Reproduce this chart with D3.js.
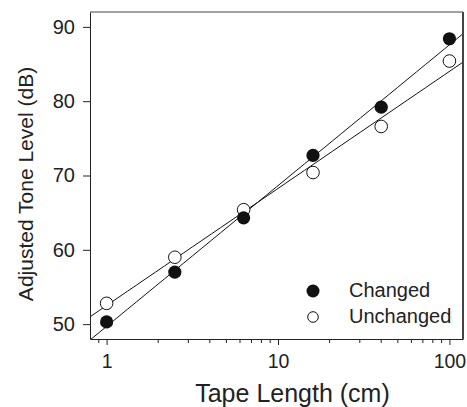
<!DOCTYPE html>
<html><head><meta charset="utf-8">
<script src="https://cdn.jsdelivr.net/npm/d3@7"></script>
<style>body{margin:0;background:#fff}svg{display:block}text{font-family:"Liberation Sans",Arial,sans-serif;fill:#222}</style>
</head><body><svg id="c" width="467" height="407"></svg>
<script>
const tapeLength = [1, 2.5, 6.3, 16, 40, 100];
const changed = [50.3, 57.0, 64.3, 72.7, 79.2, 88.4];
const unchanged = [52.8, 59.0, 65.4, 70.4, 76.6, 85.4];
const yTicks = [50, 60, 70, 80, 90];
const xMajor = [1, 10, 100];
const xMinor = [0.9, 2, 3, 4, 5, 6, 7, 8, 9, 20, 30, 40, 50, 60, 70, 80, 90];
const seriesNames = ["Changed", "Unchanged"];

const svg = d3.select("#c");
const L = 90, R = 463, T = 12, B = 339;
const x = d3.scaleLog().domain([0.8, 120]).range([L, R]);
const y = d3.scaleLinear().domain([48, 92]).range([B, T]);
const ink = "#222";

function fit(xs, ys) {
  const lx = xs.map(Math.log10);
  const mx = d3.mean(lx), my = d3.mean(ys);
  let sxy = 0, sxx = 0;
  lx.forEach((v, i) => { sxy += (v - mx) * (ys[i] - my); sxx += (v - mx) * (v - mx); });
  const b = sxy / sxx, a = my - b * mx;
  return v => a + b * Math.log10(v);
}

svg.append("clipPath").attr("id", "clip").append("rect")
  .attr("x", L).attr("y", T).attr("width", R - L).attr("height", B - T);

// regression lines
[changed, unchanged].forEach(ys => {
  const f = fit(tapeLength, ys);
  const dom = x.domain();
  const pts = d3.range(0, 41).map(i => Math.pow(10, Math.log10(dom[0]) + i / 40 * (Math.log10(dom[1]) - Math.log10(dom[0]))));
  svg.append("path").attr("clip-path", "url(#clip)")
    .attr("d", d3.line().x(d => x(d)).y(d => y(f(d)))(pts))
    .attr("fill", "none").attr("stroke", "#111").attr("stroke-width", 1);
});

// points
svg.selectAll(".u").data(tapeLength).join("circle")
  .attr("cx", d => x(d)).attr("cy", (d, i) => y(unchanged[i])).attr("r", 6.3)
  .attr("fill", "#fff").attr("stroke", "#111").attr("stroke-width", 1);
svg.selectAll(".c").data(tapeLength).join("circle")
  .attr("cx", d => x(d)).attr("cy", (d, i) => y(changed[i])).attr("r", 6.6)
  .attr("fill", "#111");

// frame
svg.append("line").attr("x1", L).attr("x2", R).attr("y1", T).attr("y2", T).attr("stroke", "#444").attr("stroke-width", 1);
svg.append("line").attr("x1", R).attr("x2", R).attr("y1", T).attr("y2", B).attr("stroke", "#444").attr("stroke-width", 2);

// y axis
const ya = svg.append("g").attr("transform", `translate(${L},0)`)
  .call(d3.axisLeft(y).tickValues(yTicks).tickSize(7).tickPadding(8).tickSizeOuter(0));
ya.select(".domain").attr("stroke", ink);
ya.selectAll(".tick line").attr("stroke", ink);
ya.selectAll(".tick text").style("font-size", "20px").attr("fill", ink);

// x axis
const xa = svg.append("g").attr("transform", `translate(0,${B})`)
  .call(d3.axisBottom(x).tickValues(xMajor).tickFormat(d3.format("d")).tickSize(6).tickPadding(9.5).tickSizeOuter(0));
xa.select(".domain").attr("stroke", ink);
xa.selectAll(".tick line").attr("stroke", ink);
xa.selectAll(".tick text").style("font-size", "19.5px").attr("fill", ink);
svg.append("g").attr("transform", `translate(0,${B})`).selectAll("line").data(xMinor).join("line")
  .attr("x1", d => x(d)).attr("x2", d => x(d)).attr("y1", 0).attr("y2", 4).attr("stroke", ink);

// titles
svg.append("text").attr("x", 292.5).attr("y", 401.5).attr("text-anchor", "middle")
  .style("font-size", "25px").text("Tape Length (cm)");
svg.append("text").attr("transform", "translate(33,184) rotate(-90)").attr("text-anchor", "middle")
  .style("font-size", "21px").text("Adjusted Tone Level (dB)");

// legend
const lg = svg.append("g");
lg.append("circle").attr("cx", 313).attr("cy", 291).attr("r", 6.5).attr("fill", "#111");
lg.append("circle").attr("cx", 313).attr("cy", 317).attr("r", 5.3).attr("fill", "#fff").attr("stroke", "#111");
lg.selectAll("text").data(seriesNames).join("text")
  .attr("x", 349).attr("y", (d, i) => 297 + i * 25.5)
  .style("font-size", "20px").text(d => d);
</script></body></html>
